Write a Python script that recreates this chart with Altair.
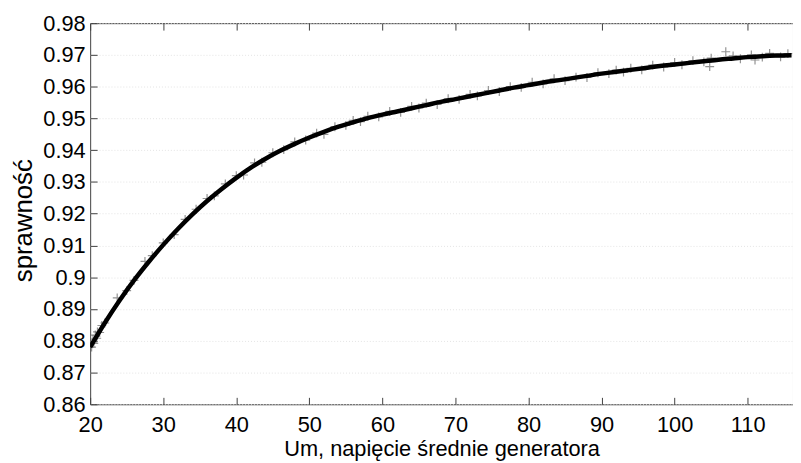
import altair as alt
import pandas as pd

# Fitted efficiency curve
curve_u = [20, 22, 24, 26, 28, 30, 32, 34, 36, 38, 40, 42, 44, 46, 48, 50, 52, 54, 56, 58,
           60, 62, 64, 66, 68, 70, 72, 74, 76, 78, 80, 82, 84, 86, 88, 90, 92, 94, 96, 98,
           100, 102, 104, 106, 108, 110, 112, 114, 116]
curve_eta = [0.8780, 0.8856, 0.8926, 0.8990, 0.9048, 0.9102, 0.9152, 0.9198, 0.9240, 0.9278,
             0.9313, 0.9345, 0.9373, 0.9398, 0.9420, 0.9440, 0.9458, 0.9474, 0.9488, 0.9501,
             0.9512, 0.9522, 0.9532, 0.9542, 0.9552, 0.9561, 0.9570, 0.9579, 0.9588, 0.9597,
             0.9605, 0.9613, 0.9620, 0.9627, 0.9634, 0.9641, 0.9647, 0.9653, 0.9659, 0.9665,
             0.9670, 0.9675, 0.9680, 0.9685, 0.9689, 0.9693, 0.9696, 0.9698, 0.9699]

# Measured points (grey '+' markers)
meas_u = [20.0, 20.2, 20.4, 20.5, 20.7, 20.9, 21.0, 21.3, 21.6, 22.0, 23.7, 25.0, 26.0, 27.5,
          28.5, 30.0, 31.5, 33.0, 34.5, 36.0, 37.0, 38.5, 40.0, 41.0, 42.5, 43.5, 45.0, 46.5,
          48.0, 49.5, 51.0, 52.0, 53.5, 55.0, 56.0, 57.0, 58.0, 59.5, 61.0, 62.5, 64.0, 65.0,
          66.0, 67.5, 69.0, 70.5, 72.0, 73.0, 74.5, 76.0, 77.5, 79.0, 80.5, 82.0, 83.5, 85.0,
          86.5, 88.0, 89.5, 91.0, 92.0, 93.0, 94.0, 95.5, 97.0, 98.5, 100.0, 101.0, 102.5,
          104.0, 104.8, 105.0, 107.0, 108.0, 109.0, 110.5, 111.0, 112.0, 113.0, 114.5, 115.5]
meas_eta = [0.8790, 0.8780, 0.8805, 0.8792, 0.8818, 0.8808, 0.8828, 0.8826, 0.8848, 0.8856,
            0.8935, 0.8958, 0.8990, 0.9050, 0.9068, 0.9108, 0.9134, 0.9182, 0.9214, 0.9248,
            0.9256, 0.9294, 0.9320, 0.9322, 0.9360, 0.9362, 0.9392, 0.9402, 0.9426, 0.9432,
            0.9454, 0.9450, 0.9474, 0.9478, 0.9494, 0.9490, 0.9507, 0.9505, 0.9522, 0.9519,
            0.9538, 0.9533, 0.9548, 0.9544, 0.9562, 0.9560, 0.9576, 0.9571, 0.9588, 0.9585,
            0.9600, 0.9598, 0.9614, 0.9609, 0.9625, 0.9619, 0.9630, 0.9629, 0.9644, 0.9641,
            0.9652, 0.9646, 0.9658, 0.9653, 0.9668, 0.9662, 0.9676, 0.9669, 0.9682, 0.9678,
            0.9663, 0.9690, 0.9710, 0.9697, 0.9688, 0.9700, 0.9684, 0.9693, 0.9705, 0.9694,
            0.9704]

x_ticks = [20, 30, 40, 50, 60, 70, 80, 90, 100, 110]
y_ticks = [0.86, 0.87, 0.88, 0.89, 0.90, 0.91, 0.92, 0.93, 0.94, 0.95, 0.96, 0.97, 0.98]

curve_df = pd.DataFrame({"U": curve_u, "eta": curve_eta})
meas_df = pd.DataFrame({"U": meas_u, "eta": meas_eta})

FONT = "Liberation Sans"
AX = "#404040"

xscale = alt.Scale(domain=[20, 116.2], nice=False, zero=False)
yscale = alt.Scale(domain=[0.86, 0.98], nice=False, zero=False)

y_axis = alt.Axis(
    values=y_ticks, format="~g", orient="left", offset=-7, domain=False,
    ticks=True, tickSize=7, tickColor=AX, labelPadding=5, labelFontSize=22,
    labelFont=FONT, labelColor="black",
    grid=True, gridColor="#e4e4e4", gridDash=[1, 2], gridWidth=1,
    title="sprawność", titleFont=FONT, titleFontSize=26, titleFontWeight="normal",
    titleColor="black", titleAngle=270, titleX=-74, titleY=199,
    titleAlign="center", titleBaseline="middle",
)
x_axis = alt.Axis(
    values=x_ticks, orient="bottom", offset=-7, domain=False, ticks=True,
    tickSize=7, tickColor=AX, labelPadding=11, labelFontSize=22, labelFont=FONT,
    labelColor="black", grid=False, labelFlush=False,
    title="Um, napięcie średnie generatora", titleFont=FONT, titleFontSize=22,
    titleFontWeight="normal", titleColor="black", titlePadding=3,
)
x_top = alt.Axis(
    values=x_ticks, orient="top", offset=-7, domain=False, ticks=True,
    tickSize=7, tickColor=AX, labels=False, grid=False, title=None,
)

scatter = alt.Chart(meas_df).mark_point(
    shape="M-1,0L1,0M0,-1L0,1", filled=False, stroke="#666666", strokeWidth=1.2,
    opacity=0.7, size=80, clip=True,
).encode(
    x=alt.X("U:Q", scale=xscale, axis=None),
    y=alt.Y("eta:Q", scale=yscale, axis=y_axis),
)

line = alt.Chart(curve_df).mark_line(
    color="black", strokeWidth=4.5, interpolate="monotone", clip=True,
).encode(
    x=alt.X("U:Q", scale=xscale, axis=x_axis),
    y=alt.Y("eta:Q", scale=yscale, axis=y_axis),
)

top = alt.Chart(curve_df).mark_line(opacity=0, clip=True).encode(
    x=alt.X("U:Q", scale=xscale, axis=x_top),
    y=alt.Y("eta:Q", scale=yscale, axis=y_axis),
)

chart = alt.layer(scatter, line, top).resolve_axis(x="independent").properties(
    width=710, height=385,
    autosize=alt.AutoSizeParams(type="none"),
    padding={"left": 83, "top": 13, "right": 0, "bottom": 58},
    background="white",
).configure_view(stroke=AX, strokeWidth=1).configure_axisX(grid=False)

chart.save("out.html", embed_options={"renderer": "svg", "actions": False})
